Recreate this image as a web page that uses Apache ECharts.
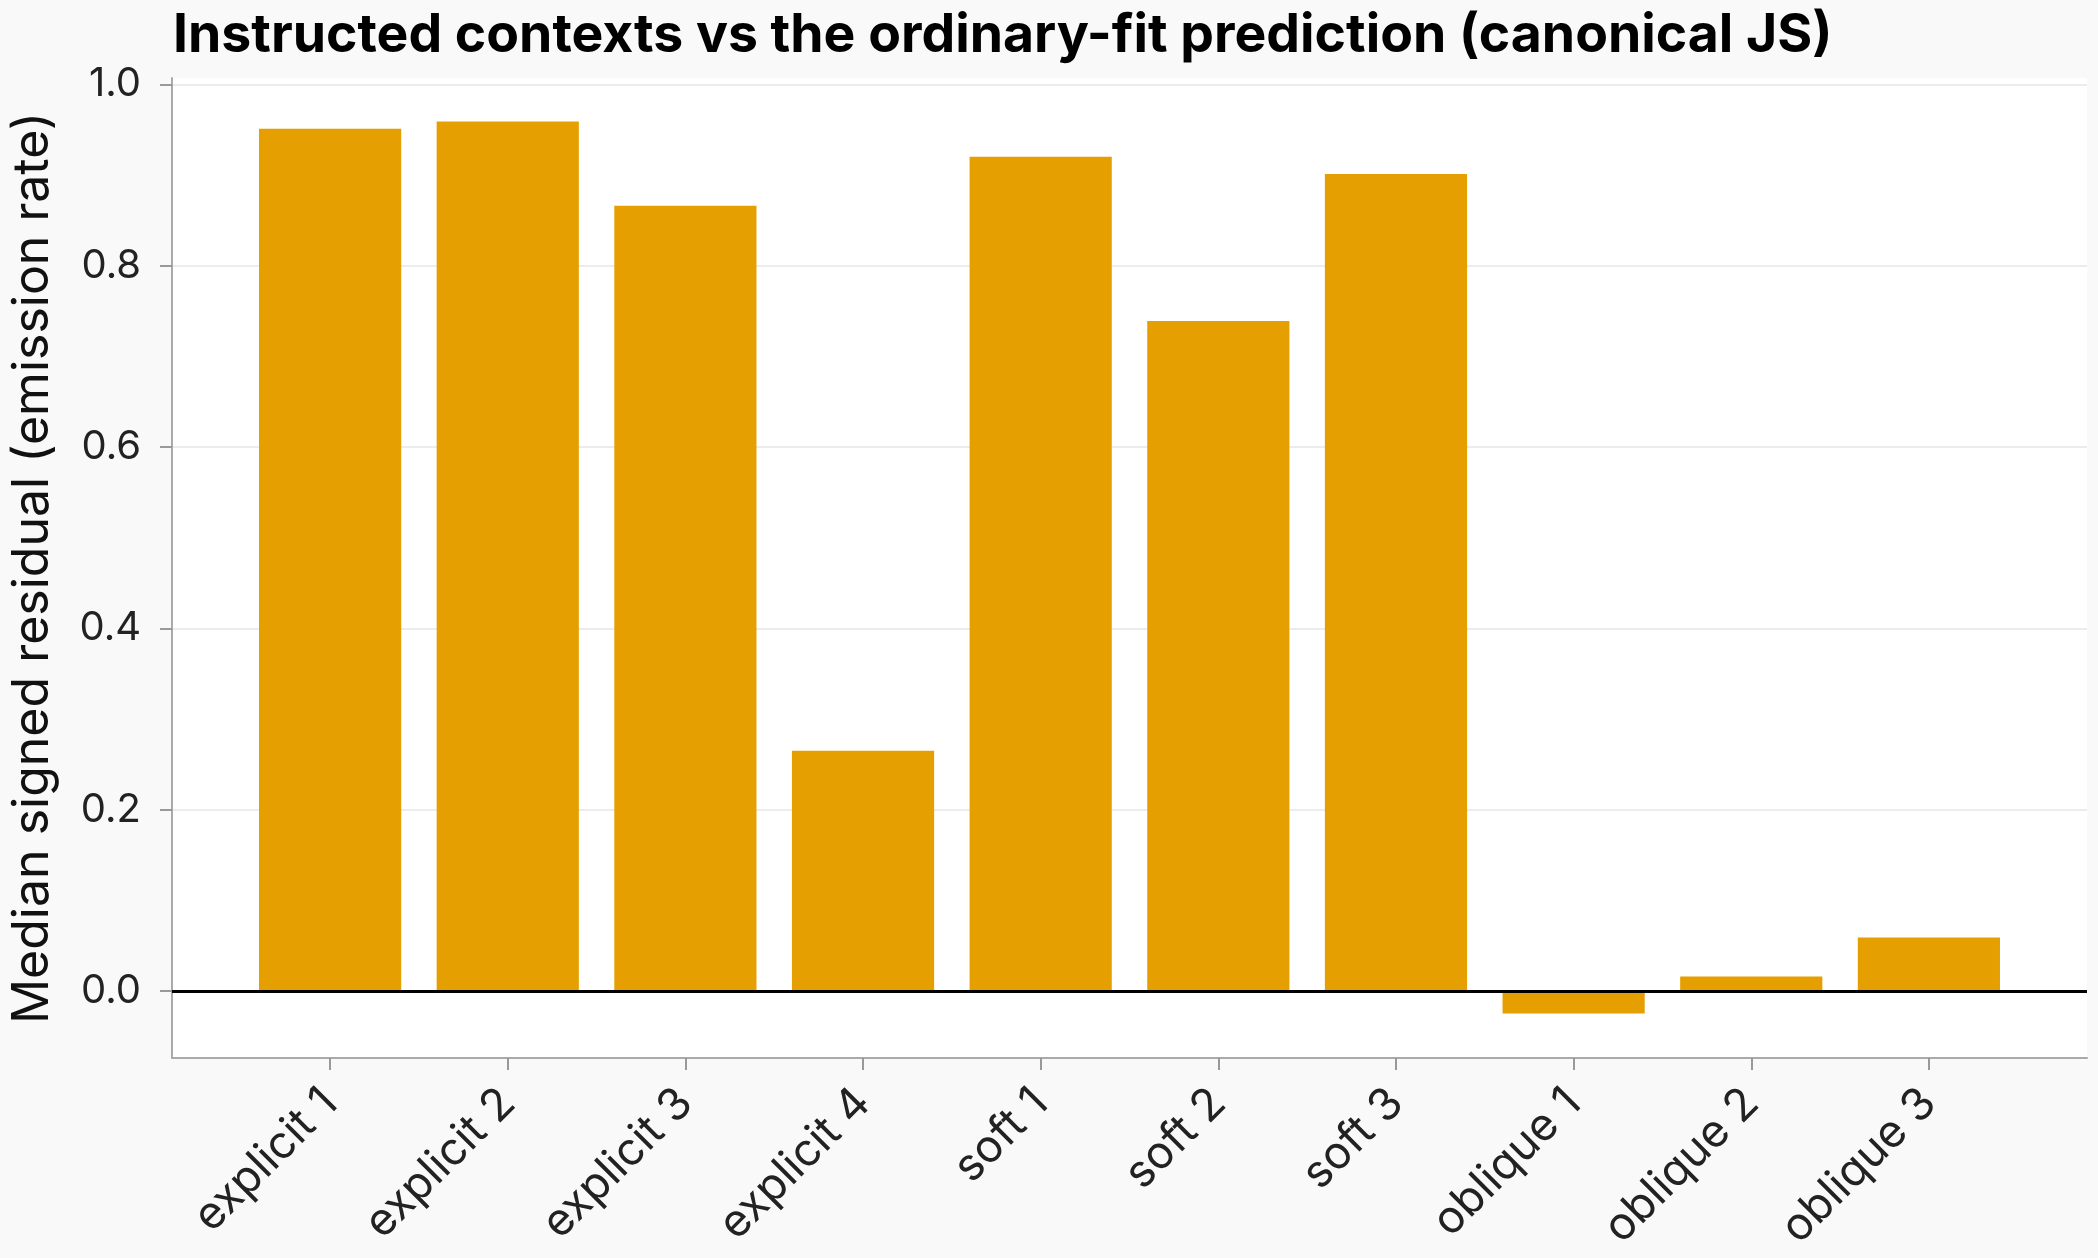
<!DOCTYPE html>
<html>
<head>
<meta charset="utf-8">
<script src="https://cdn.jsdelivr.net/npm/echarts@6/dist/echarts.min.js"></script>
<style>
  html, body { margin: 0; padding: 0; background: #f9f9f9; }
  #chart { width: 2098px; height: 1258px; }
</style>
</head>
<body>
<div id="chart"></div>
<script>
var categories = ['explicit 1', 'explicit 2', 'explicit 3', 'explicit 4', 'soft 1',
  'soft 2', 'soft 3', 'oblique 1', 'oblique 2', 'oblique 3'];
var residuals = [0.951, 0.959, 0.866, 0.265, 0.920, 0.739, 0.901, -0.025, 0.016, 0.059];
var yTicks = [0.0, 0.2, 0.4, 0.6, 0.8, 1.0];

var gridLeft = 171, gridRight = 11;
var xMin = -0.89, xMax = categories.length - 1 + 0.89;
var unitPx = (2098 - gridLeft - gridRight) / (xMax - xMin);
var xTicks = categories.map(function (c, i) { return i; });

var chart = echarts.init(document.getElementById('chart'));

var option = {
  backgroundColor: '#f9f9f9',
  textStyle: { fontFamily: 'Inter' },
  title: {
    text: 'Instructed contexts vs the ordinary-fit prediction (canonical JS)',
    left: 168,
    top: 4,
    textStyle: { fontFamily: 'Inter', fontWeight: 'bold', fontSize: 53.5, color: '#000' }
  },
  grid: {
    left: gridLeft, right: gridRight, top: 78, bottom: 200,
    show: true, backgroundColor: '#ffffff', borderWidth: 0
  },
  xAxis: {
    type: 'value',
    min: xMin,
    max: xMax,
    axisLine: { show: true, onZero: false, lineStyle: { color: '#aaaaaa', width: 2 } },
    axisTick: { show: true, length: 12, customValues: xTicks, lineStyle: { color: '#999999', width: 2 } },
    axisLabel: {
      customValues: xTicks,
      formatter: function (v) { return categories[Math.round(v)]; },
      rotate: 45, margin: 38, fontSize: 45, color: '#222', fontFamily: 'Inter'
    },
    splitLine: { show: false }
  },
  yAxis: {
    type: 'value',
    min: -0.074,
    max: 1.007,
    name: 'Median signed residual (emission rate)',
    nameLocation: 'middle',
    nameGap: 114,
    nameTextStyle: { fontSize: 50, color: '#111', fontFamily: 'Inter' },
    axisLine: { show: true, onZero: false, lineStyle: { color: '#aaaaaa', width: 2 } },
    axisTick: { show: true, length: 12, customValues: yTicks, lineStyle: { color: '#999999', width: 2 } },
    axisLabel: {
      customValues: yTicks,
      formatter: function (v) { return v.toFixed(1); },
      margin: 31, fontSize: 40, color: '#222', fontFamily: 'Inter'
    },
    splitLine: { show: true, lineStyle: { color: '#e6e6e6', width: 1.5 } }
  },
  series: [{
    type: 'bar',
    data: residuals.map(function (v, i) { return [i, v]; }),
    barWidth: 0.8 * unitPx,
    itemStyle: { color: '#E69F00' },
    markLine: {
      silent: true,
      symbol: 'none',
      label: { show: false },
      lineStyle: { color: '#000000', width: 3, type: 'solid' },
      data: [{ yAxis: 0 }]
    }
  }]
};

chart.setOption(option);
</script>
</body>
</html>
